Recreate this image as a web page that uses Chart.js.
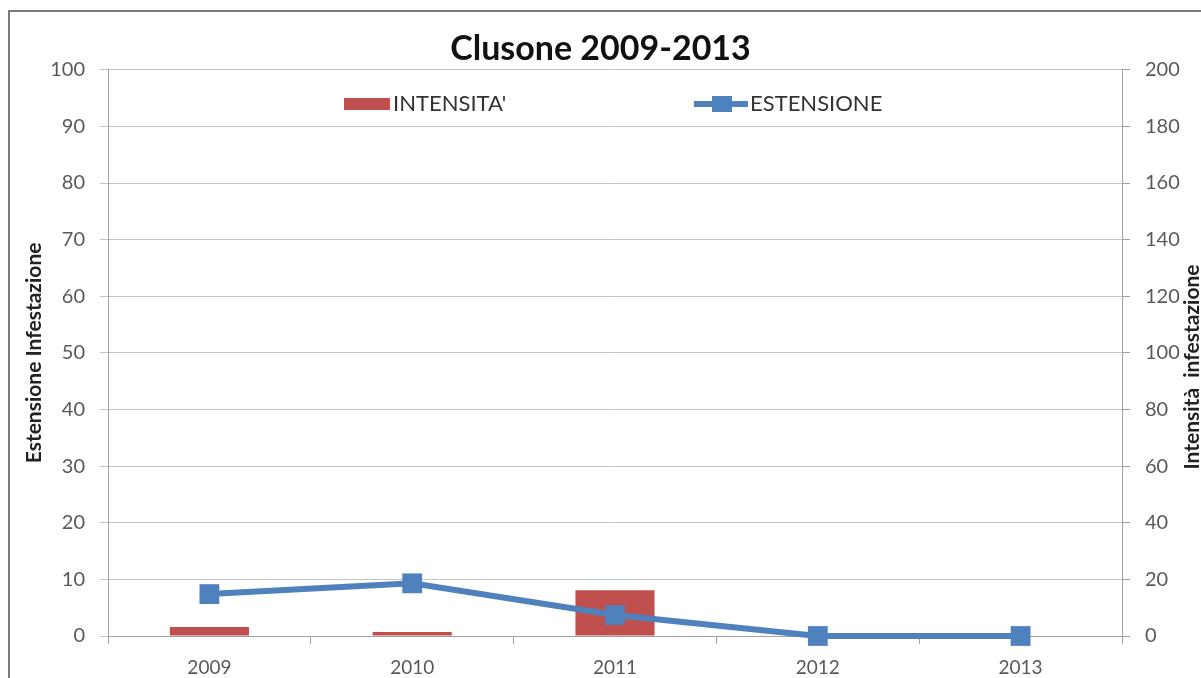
<!DOCTYPE html>
<html>
<head>
<meta charset="utf-8">
<script src="https://cdn.jsdelivr.net/npm/chart.js@4/dist/chart.umd.min.js"></script>
<style>
  body { margin: 0; background: #fff; overflow: hidden; }
  #frame { position: absolute; left: 8px; top: 10px; width: 1300px; height: 800px;
           border-left: 2px solid #7a7a7a; border-top: 2px solid #7a7a7a; }
  canvas { position: absolute; left: 0; top: 0; }
</style>
</head>
<body>
<div id="frame"></div>
<canvas id="myChart" width="1201" height="678"></canvas>
<script>
// data
var anni = ['2009', '2010', '2011', '2012', '2013'];
var intensita = [3.2, 1.4, 16.2, 0, 0];      // right axis
var estensione = [7.4, 9.3, 3.7, 0, 0];      // left axis
var ticksSinistra = [0, 10, 20, 30, 40, 50, 60, 70, 80, 90, 100];
var ticksDestra = [0, 20, 40, 60, 80, 100, 120, 140, 160, 180, 200];

var rosso = '#C0504D';
var blu = '#4F81BD';
var grigioTick = '#595959';

// legend and right title drawn by hand (Excel style)
const extras = {
    id: 'extras',
    afterDraw(chart) {
        const ctx = chart.ctx;
        ctx.save();
        // legend
        ctx.fillStyle = rosso;
        ctx.fillRect(344, 98, 46, 12);
        ctx.font = '22px Lato';
        ctx.fillStyle = '#333';
        ctx.textBaseline = 'middle';
        ctx.textAlign = 'left';
        ctx.fillText("INTENSITA'", 393, 104);

        ctx.strokeStyle = blu;
        ctx.lineWidth = 6;
        ctx.beginPath();
        ctx.moveTo(694, 104);
        ctx.lineTo(748, 104);
        ctx.stroke();
        ctx.fillStyle = blu;
        ctx.fillRect(712, 96, 20, 16);
        ctx.fillStyle = '#333';
        ctx.fillText('ESTENSIONE', 750, 104);

        // right axis title, reading bottom to top
        ctx.translate(1192, 367);
        ctx.rotate(-Math.PI / 2);
        ctx.font = 'bold 21px Lato';
        ctx.fillStyle = '#222';
        ctx.textAlign = 'center';
        ctx.fillText('Intensità  infestazione', 0, 0);
        ctx.restore();
    }
};

const ctx = document.getElementById('myChart').getContext('2d');
const myChart = new Chart(ctx, {
    data: {
        labels: anni,
        datasets: [
            {
                type: 'line',
                label: 'ESTENSIONE',
                yAxisID: 'A',
                data: estensione,
                borderColor: blu,
                backgroundColor: blu,
                borderWidth: 6,
                pointStyle: 'rect',
                pointRadius: 14,
                pointBorderWidth: 0,
                pointBackgroundColor: blu,
                clip: false,
                order: 0
            },
            {
                type: 'bar',
                label: "INTENSITA'",
                yAxisID: 'B',
                data: intensita,
                backgroundColor: rosso,
                barPercentage: 0.39,
                categoryPercentage: 1,
                order: 1
            }
        ]
    },
    options: {
        responsive: false,
        animation: false,
        layout: { padding: 0 },
        plugins: {
            title: {
                display: true,
                text: 'Clusone 2009-2013',
                color: '#111',
                font: { family: 'Lato', size: 34, weight: 'bold' },
                padding: { top: 29, bottom: 0 }
            },
            legend: { display: false },
            tooltip: { enabled: false }
        },
        scales: {
            x: {
                grid: {
                    offset: true,
                    drawOnChartArea: false,
                    tickLength: 8,
                    color: '#a0a0a0'
                },
                border: { color: '#a0a0a0' },
                ticks: {
                    color: grigioTick,
                    padding: 12,
                    font: { family: 'Lato', size: 19 }
                },
                afterFit: function(scale) { scale.height = 42; }
            },
            A: {
                type: 'linear',
                position: 'left',
                min: 0,
                max: 100,
                afterBuildTicks: function(scale) {
                    scale.ticks = ticksSinistra.map(function(v) { return { value: v }; });
                },
                grid: { color: '#c4c4c4', tickLength: 8 },
                border: { color: '#a0a0a0' },
                ticks: {
                    color: grigioTick,
                    padding: 15,
                    font: { family: 'Lato', size: 20 }
                },
                title: {
                    display: true,
                    text: 'Estensione Infestazione',
                    color: '#222',
                    font: { family: 'Lato', size: 21, weight: 'bold' },
                    padding: { top: 22, bottom: 0 }
                },
                afterFit: function(scale) { scale.width = 108; }
            },
            B: {
                type: 'linear',
                position: 'right',
                min: 0,
                max: 200,
                afterBuildTicks: function(scale) {
                    scale.ticks = ticksDestra.map(function(v) { return { value: v }; });
                },
                grid: { drawOnChartArea: false, color: '#a0a0a0', tickLength: 8 },
                border: { color: '#a0a0a0' },
                ticks: {
                    color: grigioTick,
                    padding: 15,
                    font: { family: 'Lato', size: 20 }
                },
                afterFit: function(scale) { scale.width = 79; }
            }
        }
    },
    plugins: [extras]
});
</script>
</body>
</html>
